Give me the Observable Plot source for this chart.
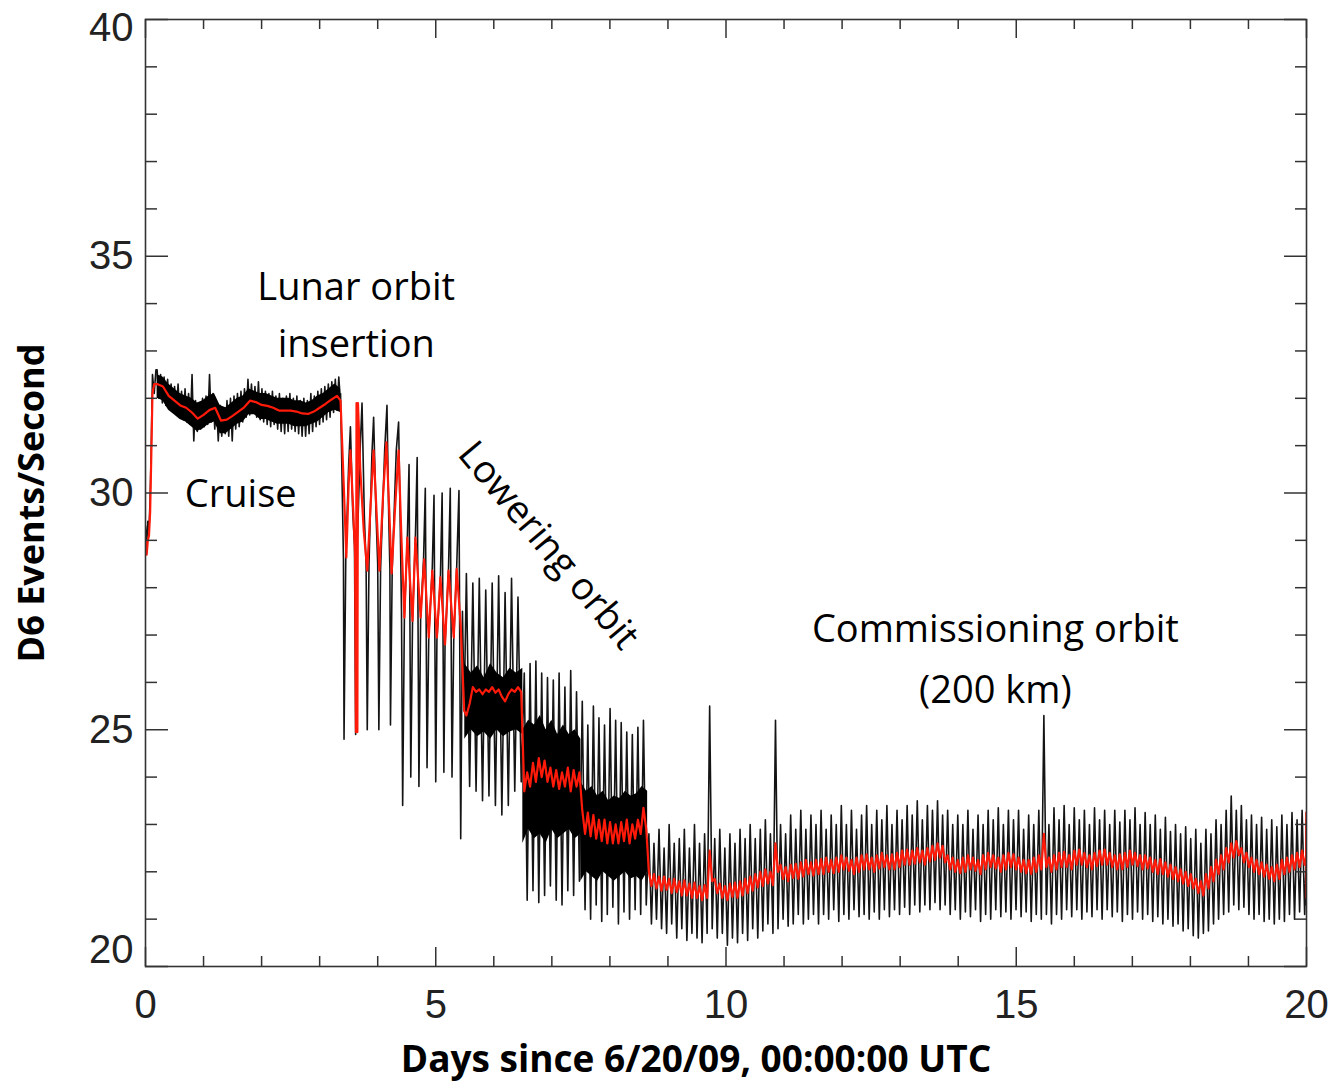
<!DOCTYPE html>
<html>
<head>
<meta charset="utf-8">
<script src="https://cdn.jsdelivr.net/npm/d3@7"></script>
<script src="https://cdn.jsdelivr.net/npm/@observablehq/plot@0.6"></script>
<style>
  body { margin: 0; background: #fff; }
  #chart svg { display: block; }
</style>
</head>
<body>
<div id="chart"></div>
<script>
// ---------------- DATA ----------------
// Axis ticks
const xMajor = [0, 5, 10, 15, 20];
const xMinor = [1, 2, 3, 4, 6, 7, 8, 9, 11, 12, 13, 14, 16, 17, 18, 19];
const yMajor = [20, 25, 30, 35, 40];
const yMinor = [21, 22, 23, 24, 26, 27, 28, 29, 31, 32, 33, 34, 36, 37, 38, 39];

// Launch ramp (explicit samples)
const rampT     = [0, 0.02, 0.04, 0.06, 0.08, 0.10, 0.12, 0.15, 0.18];
const rampBlack = [29.3, 28.9, 29.4, 29.2, 29.9, 31.0, 32.5, 32.1, 32.6];
const rampRed   = [29.0, 28.7, 29.0, 29.1, 29.6, 30.8, 32.1, 32.3, 32.3];

// Cruise, 0.20 -> 3.36 days, evenly spaced samples
const cruiseBlack = [
  32.6, 32.0, 32.5, 31.9, 32.45, 31.85, 32.4, 31.8, 32.3, 31.75,
  32.25, 31.7, 32.3, 31.6, 32.15, 31.55, 32.2, 31.5, 32.1, 31.45,
  32.5, 31.1, 31.95, 31.3, 31.9, 31.35, 32.0, 31.4, 32.05, 31.45,
  32.5, 31.5, 32.1, 31.35, 31.9, 31.1, 31.85, 31.2, 31.8, 31.25,
  31.95, 31.2, 32.0, 31.1, 32.05, 31.35, 32.1, 31.4, 32.15, 31.5,
  32.2, 31.6, 32.4, 31.65, 32.3, 31.7, 32.25, 31.6, 32.35, 31.55,
  32.2, 31.5, 32.15, 31.45, 32.1, 31.4, 32.15, 31.45, 32.05, 31.35,
  32.1, 31.3, 32.0, 31.25, 32.05, 31.3, 32.1, 31.35, 32.0, 31.3,
  32.05, 31.25, 31.95, 31.2, 32.0, 31.2, 31.95, 31.25, 32.1, 31.3,
  32.05, 31.4, 32.15, 31.45, 32.2, 31.5, 32.25, 31.55, 32.3, 31.6,
  32.35, 31.7, 32.4, 31.75, 32.45, 31.9
];
// Cruise dense core, 0.20 -> 3.36 days
const cruiseCoreHi = [32.5,32.45,32.3,32.2,32.1,32.05,32.0,31.9,31.95,32.05,32.1,31.85,31.8,31.9,32.0,32.05,32.2,
  32.15,32.1,32.1,32.05,32.0,32.0,32.0,31.95,31.95,31.9,31.95,32.05,32.1,32.2,32.3,32.2];
const cruiseCoreLo = [32.0,31.95,31.75,31.65,31.55,31.5,31.4,31.3,31.35,31.45,31.5,31.25,31.25,31.35,31.45,31.5,31.65,
  31.65,31.55,31.55,31.5,31.45,31.45,31.45,31.4,31.4,31.4,31.45,31.5,31.6,31.7,31.75,31.7];
// Cruise red, 0.2 -> 3.3 days
const cruiseRed = [
  32.3, 32.25, 32.05, 31.95, 31.85, 31.8, 31.7, 31.57, 31.65, 31.75,
  31.8, 31.53, 31.55, 31.63, 31.72, 31.81, 31.95, 31.92, 31.86, 31.84,
  31.8, 31.74, 31.74, 31.74, 31.72, 31.68, 31.67, 31.72, 31.8, 31.88,
  31.97, 32.05
];

// Lunar orbit insertion, explicit samples
const loiT = [3.36,3.39,3.41,3.42,3.45,3.50,3.53,3.57,3.60,3.62,3.65,3.70,3.73,3.77,3.80,3.82,3.85,3.90,3.93,3.97,
  4.00,4.02,4.05,4.12,4.16,4.19,4.21,4.22,4.25,4.32,4.36,4.39,4.41,4.43,4.46,4.51,4.54,4.57,4.60,4.65,
  4.68,4.71,4.74,4.79,4.82,4.85,4.88,4.94,4.97,5.00,5.02,5.08,5.11,5.14,5.16,5.22,5.25,5.28,5.31,5.36,
  5.40,5.43,5.46,5.49];
const loiBlack = [32.1,30.0,28.6,24.8,28.6,30.6,31.4,29.6,28.9,24.9,29.0,31.0,31.9,29.5,28.5,25.0,28.5,30.8,31.6,29.6,
  28.5,25.0,28.4,30.9,31.85,29.5,28.4,25.1,28.4,30.9,31.5,29.2,27.5,23.4,27.4,29.0,30.6,24.0,27.3,29.1,
  30.75,23.8,27.4,28.6,30.1,24.2,27.0,28.4,29.95,23.9,26.9,28.2,30.0,24.1,26.8,28.4,30.1,24.0,26.9,28.4,
  30.05,22.7,27.5,25.4];
const loiRedT = [3.36,3.42,3.46,3.50,3.53,3.58,3.61,3.625,3.635,3.65,3.66,3.70,3.76,3.82,3.88,3.93,3.98,4.03,4.09,4.15,
  4.20,4.24,4.30,4.36,4.41,4.46,4.51,4.60,4.65,4.74,4.80,4.88,4.94,5.02,5.08,5.16,5.22,5.31,5.36,5.43,5.49];
const loiRed = [31.95,30.0,28.64,30.2,30.9,29.6,28.7,24.95,31.9,24.95,31.9,30.5,29.2,28.36,29.8,30.9,29.6,28.36,29.9,31.07,
  29.6,28.3,29.7,30.9,29.0,27.37,29.06,27.3,29.06,27.37,28.6,26.95,28.36,26.95,28.22,26.8,28.36,26.95,28.4,27.2,25.4];

// Lowering orbit steps: per-orbit highs / lows, dense core band, red per half orbit
const stepSpan = [5.5, 6.5, 7.5, 8.65];
const dHi = [28.3, 28.1, 28.2, 27.95, 28.1, 28.25, 27.9, 28.2, 27.8];
const dLo = [23.8, 23.7, 23.5, 23.6, 23.4, 23.2, 23.4, 23.7, 23.9];
const dCoreHi = [26.4, 26.2, 26.35, 26.1, 26.4, 26.2, 26.1, 26.3, 26.2, 26.3];
const dCoreLo = [24.8, 25.0, 24.85, 24.95, 24.8, 25.0, 24.85, 24.95, 25.0, 24.9];
const dRed = [25.3,25.55,25.9,25.8,25.85,25.75,25.85,25.8,25.9,25.78,25.85,25.7,25.6,25.75,25.85,25.8,25.9,25.8];

const eHi = [26.2, 26.4, 26.45, 26.2, 26.1, 26.05, 26.2, 25.9, 26.25, 25.8];
const eLo = [21.4, 21.6, 21.35, 21.5, 21.7, 21.4, 21.3, 21.6, 21.5, 21.8];
const eCoreHi = [25.0, 25.2, 25.1, 25.3, 25.0, 25.2, 24.9, 25.1, 24.9, 25.0, 24.8];
const eCoreLo = [22.6, 22.9, 22.7, 22.8, 22.6, 22.9, 22.7, 22.8, 22.9, 22.7, 22.8];
const eRed = [23.7,24.1,23.8,24.3,23.9,24.4,24.0,24.35,23.9,24.2,23.8,24.15,23.75,24.1,23.8,24.2,23.7,24.15,23.8,24.1];

const fHi = [25.6, 25.1, 25.5, 25.25, 25.1, 25.45, 25.2, 25.15, 24.95, 24.9, 25.05, 25.2];
const fLo = [21.2, 21.0, 21.3, 20.95, 21.1, 21.25, 20.9, 21.15, 21.0, 21.2, 21.1, 21.3];
const fCoreHi = [23.9, 23.7, 23.8, 23.6, 23.7, 23.5, 23.6, 23.55, 23.7, 23.6, 23.65, 23.8, 23.7];
const fCoreLo = [21.8, 22.0, 21.9, 21.8, 22.0, 21.9, 21.8, 21.9, 22.0, 21.85, 21.9, 21.8, 22.0];
const fRed = [23.3,22.8,23.25,22.75,23.2,22.7,23.1,22.65,23.1,22.6,23.05,22.6,23.0,22.6,23.05,22.65,23.1,22.6,23.0,22.7,23.1,22.8,23.35,22.9];

// Commissioning orbit, 8.65 -> 20 days, per-orbit highs / lows
const commSpan = [8.65, 19.99];
const gHi = [
  22.8,22.6,22.9,22.5,23.0,22.6,22.7,22.9,22.5,23.0,
  22.6,22.8,25.5,22.7,22.9,22.5,22.8,22.6,22.9,22.7,
  23.0,22.7,22.9,23.1,22.8,25.2,23.0,22.8,23.2,22.9,
  23.3,22.9,23.2,23.0,23.3,22.9,23.2,23.0,23.4,23.0,
  23.3,22.9,23.2,23.4,23.0,23.3,23.1,23.4,23.0,23.3,
  23.1,23.4,23.2,23.5,23.1,23.4,23.3,23.5,23.2,23.3,
  23.0,23.2,23.0,23.3,22.9,23.2,23.0,23.3,23.1,23.35,
  23.0,23.3,23.1,23.3,22.9,23.2,23.0,23.3,25.3,23.0,
  23.35,23.1,23.4,23.0,23.35,23.1,23.3,23.0,23.35,23.1,
  23.3,23.0,23.3,23.05,23.3,23.1,23.35,23.0,23.25,23.0,
  23.2,22.9,23.15,22.85,23.0,22.8,22.95,22.7,22.9,22.6,
  22.9,22.8,23.1,23.0,23.3,23.6,23.3,23.4,23.1,23.2,
  23.0,23.15,22.9,23.1,22.95,23.2,23.0,23.25,23.1,23.3
];
const gLo = [
  20.9,21.0,20.8,20.7,20.9,20.6,20.8,20.55,20.7,20.6,
  20.5,20.7,20.8,20.6,20.7,20.45,20.6,20.5,20.7,20.55,
  20.8,20.6,20.75,20.9,20.7,20.8,21.0,20.85,20.9,21.1,
  20.9,21.0,21.1,20.9,21.1,21.0,21.2,20.95,21.1,21.0,
  21.2,21.05,21.1,21.0,21.15,21.0,21.2,21.05,21.2,21.1,
  21.25,21.1,21.3,21.15,21.3,21.2,21.35,21.2,21.3,21.1,
  21.2,21.0,21.15,21.05,21.2,20.95,21.1,21.0,21.2,21.05,
  21.15,21.0,21.2,21.05,21.15,20.95,21.1,21.0,21.1,20.9,
  21.1,21.0,21.2,21.05,21.2,21.0,21.15,21.05,21.2,21.0,
  21.2,21.05,21.15,20.95,21.1,21.0,21.15,21.0,21.1,20.95,
  21.05,20.9,21.0,20.85,20.9,20.75,20.8,20.65,20.6,20.7,
  20.75,20.9,21.0,21.1,21.15,21.3,21.2,21.25,21.1,21.0,
  21.1,20.95,21.0,20.9,21.0,20.95,21.1,21.0,21.15,21.1
];
// Commissioning red, two samples per orbit
const gRed = [
  22.0,21.7, 21.95,21.65, 21.9,21.6, 21.9,21.62, 21.85,21.55, 21.85,21.57, 21.8,21.5, 21.82,21.5, 21.75,21.45, 21.77,21.45,
  21.7,21.4, 21.72,21.45, 22.45,21.8, 21.85,21.55, 21.75,21.45, 21.7,21.4, 21.75,21.47, 21.77,21.45, 21.8,21.5, 21.85,21.55,
  21.9,21.6, 21.95,21.67, 22.0,21.7, 22.05,21.75, 22.0,21.72, 22.6,22.0, 22.15,21.85, 22.1,21.8, 22.15,21.87, 22.17,21.85,
  22.2,21.9, 22.25,21.95, 22.2,21.92, 22.25,21.95, 22.27,21.95, 22.3,22.0, 22.25,21.97, 22.3,22.0, 22.35,22.05, 22.3,22.02,
  22.25,21.95, 22.3,22.0, 22.35,22.05, 22.37,22.05, 22.3,22.0, 22.35,22.07, 22.4,22.1, 22.35,22.05, 22.37,22.05, 22.4,22.1,
  22.45,22.15, 22.47,22.15, 22.45,22.17, 22.5,22.2, 22.45,22.15, 22.5,22.22, 22.55,22.25, 22.6,22.3, 22.55,22.2, 22.35,22.05,
  22.3,22.0, 22.25,21.97, 22.3,22.0, 22.35,22.05, 22.3,22.02, 22.25,21.95, 22.35,22.05, 22.4,22.1, 22.35,22.07, 22.3,22.0,
  22.35,22.05, 22.4,22.1, 22.37,22.05, 22.3,22.0, 22.25,21.97, 22.25,21.95, 22.3,22.0, 22.35,22.05, 22.8,22.1, 22.3,22.0,
  22.35,22.05, 22.4,22.1, 22.42,22.1, 22.35,22.05, 22.45,22.15, 22.47,22.15, 22.4,22.1, 22.35,22.05, 22.4,22.12, 22.45,22.15,
  22.47,22.15, 22.4,22.1, 22.35,22.05, 22.37,22.05, 22.4,22.1, 22.45,22.15, 22.4,22.12, 22.35,22.05, 22.35,22.07, 22.3,22.0,
  22.25,21.95, 22.27,21.95, 22.2,21.9, 22.15,21.85, 22.1,21.8, 22.05,21.75, 22.0,21.7, 21.95,21.65, 21.85,21.55, 21.8,21.5,
  21.95,21.65, 22.1,21.8, 22.25,21.95, 22.35,22.05, 22.5,22.2, 22.6,22.3, 22.65,22.35, 22.5,22.2, 22.4,22.1, 22.3,22.0,
  22.25,21.95, 22.2,21.9, 22.15,21.85, 22.1,21.8, 22.15,21.85, 22.25,21.95, 22.3,22.0, 22.35,22.05, 22.4,22.1, 22.45,22.15
];
// Final samples at 20 days
const tailT = [19.993, 19.997, 20.0];
const tailBlack = [22.2, 23.1, 21.3];
const tailRed = [22.3, 23.25, 21.45];

// Annotations (text placed in data units)
const notes = [
  {text: "Lunar orbit", x: 3.63, y: 34.34, rotate: 0},
  {text: "insertion", x: 3.63, y: 33.12, rotate: 0},
  {text: "Cruise", x: 1.64, y: 29.97, rotate: 0},
  {text: "Lowering orbit", x: 6.94, y: 28.89, rotate: 50},
  {text: "Commissioning orbit", x: 14.64, y: 27.1, rotate: 0},
  {text: "(200 km)", x: 14.64, y: 25.83, rotate: 0}
];

// ---------------- helpers that turn the arrays into point tables ----------------
const pairs = (ts, vs) => ts.map((t, i) => ({t, v: vs[i]}));
const even = (t0, t1, vs) => vs.map((v, i) => ({t: t0 + i * (t1 - t0) / (vs.length - 1), v}));
const halves = (t0, t1, vs) => vs.map((v, i) => ({t: t0 + (i + 0.5) * (t1 - t0) / vs.length, v}));
const orbits = (t0, t1, hi, lo) => {
  const n = Math.min(hi.length, lo.length), dt = (t1 - t0) / n;
  const out = [];
  for (let i = 0; i < n; i++) {
    out.push({t: t0 + (i + 0.25) * dt, v: hi[i]});
    out.push({t: t0 + (i + 0.75) * dt, v: lo[i]});
  }
  return out;
};
const band = (t0, t1, hi, lo, seg) => hi.map((h, i) => ({t: t0 + i * (t1 - t0) / (hi.length - 1), hi: h, lo: lo[i], seg}));

const blackSeries = [
  ...pairs(rampT, rampBlack),
  ...even(0.2, 3.36, cruiseBlack),
  ...pairs(loiT, loiBlack),
  ...orbits(stepSpan[0], stepSpan[1], dHi, dLo),
  ...orbits(stepSpan[1], stepSpan[2], eHi, eLo),
  ...orbits(stepSpan[2], stepSpan[3], fHi, fLo),
  ...orbits(commSpan[0], commSpan[1], gHi, gLo),
  ...pairs(tailT, tailBlack)
];
const redSeries = [
  ...pairs(rampT, rampRed),
  ...even(0.2, 3.3, cruiseRed),
  ...pairs(loiRedT, loiRed),
  ...halves(stepSpan[0], stepSpan[1], dRed),
  ...halves(stepSpan[1], stepSpan[2], eRed),
  ...halves(stepSpan[2], stepSpan[3], fRed),
  ...halves(commSpan[0], commSpan[1], gRed),
  ...pairs(tailT, tailRed)
];
const coreBands = [
  ...band(0.2, 3.36, cruiseCoreHi, cruiseCoreLo, "c"),
  ...band(stepSpan[0], stepSpan[1], dCoreHi, dCoreLo, "d"),
  ...band(stepSpan[1], stepSpan[2], eCoreHi, eCoreLo, "e"),
  ...band(stepSpan[2], stepSpan[3], fCoreHi, fCoreLo, "f")
];

// ---------------- chart ----------------
const W = 1334, H = 1084;
const mL = 145, mR = 28, mT = 19, mB = 118;
const plotW = W - mL - mR, plotH = H - mT - mB;
const axisColor = "#333";
const labelFont = "'Liberation Sans', Arial, sans-serif";
const titleFont = "'Open Sans', 'DejaVu Sans', sans-serif";

const chart = Plot.plot({
  width: W, height: H,
  marginLeft: mL, marginRight: mR, marginTop: mT, marginBottom: mB,
  x: {domain: [0, 20], axis: null},
  y: {domain: [20, 40], axis: null},
  style: {background: "#fff", fontFamily: labelFont},
  marks: [
    Plot.areaY(coreBands, {x: "t", y1: "lo", y2: "hi", z: "seg", fill: "#000", clip: true}),
    Plot.line(blackSeries, {x: "t", y: "v", stroke: "#000", strokeWidth: 1.6, strokeOpacity: 0.92, clip: true}),
    Plot.line(redSeries, {x: "t", y: "v", stroke: "#ff1a0a", strokeWidth: 2.2, clip: true}),

    // inward ticks on all four sides
    Plot.tickY(yMinor, {y: d => d, insetRight: plotW - 12, stroke: axisColor, strokeWidth: 1.5}),
    Plot.tickY(yMajor, {y: d => d, insetRight: plotW - 23, stroke: axisColor, strokeWidth: 1.5}),
    Plot.tickY(yMinor, {y: d => d, insetLeft: plotW - 11, stroke: axisColor, strokeWidth: 1.5}),
    Plot.tickY(yMajor, {y: d => d, insetLeft: plotW - 22, stroke: axisColor, strokeWidth: 1.5}),
    Plot.tickX(xMinor, {x: d => d, insetTop: plotH - 10, stroke: axisColor, strokeWidth: 1.5}),
    Plot.tickX(xMajor, {x: d => d, insetTop: plotH - 19, stroke: axisColor, strokeWidth: 1.5}),
    Plot.tickX(xMinor, {x: d => d, insetBottom: plotH - 10, stroke: axisColor, strokeWidth: 1.5}),
    Plot.tickX(xMajor, {x: d => d, insetBottom: plotH - 19, stroke: axisColor, strokeWidth: 1.5}),
    Plot.frame({stroke: axisColor, strokeWidth: 1.6}),

    // tick labels
    Plot.text(yMajor, {filter: d => d > 20 && d < 40, y: d => d, text: d => String(d), frameAnchor: "left",
      dx: -12, textAnchor: "end", lineAnchor: "middle", fontSize: 40, fill: "#222", fontFamily: labelFont}),
    Plot.text(yMajor, {filter: d => d === 40, y: d => d, text: d => String(d), frameAnchor: "left",
      dx: -12, dy: 9, textAnchor: "end", lineAnchor: "middle", fontSize: 40, fill: "#222", fontFamily: labelFont}),
    Plot.text(yMajor, {filter: d => d === 20, y: d => d, text: d => String(d), frameAnchor: "left",
      dx: -12, dy: -16, textAnchor: "end", lineAnchor: "middle", fontSize: 40, fill: "#222", fontFamily: labelFont}),
    Plot.text(xMajor, {x: d => d, text: d => String(d), frameAnchor: "bottom", dy: 39, lineAnchor: "middle",
      fontSize: 40, fill: "#222", fontFamily: labelFont}),

    // axis titles
    Plot.text(["Days since 6/20/09, 00:00:00 UTC"], {frameAnchor: "bottom", dx: -30, dy: 94, lineAnchor: "middle",
      textAnchor: "middle", fontSize: 37, fontWeight: "bold", fill: "#000", fontFamily: titleFont}),
    Plot.text(["D6 Events/Second"], {frameAnchor: "left", dx: -113, dy: 10, rotate: -90,
      textAnchor: "middle", lineAnchor: "middle",
      fontSize: 36, fontWeight: "bold", fill: "#000", fontFamily: titleFont}),

    // annotations
    Plot.text(notes, {x: "x", y: "y", text: "text", rotate: "rotate", fontSize: 38,
      fill: "#000", fontFamily: titleFont})
  ]
});
document.getElementById("chart").appendChild(chart);
</script>
</body>
</html>
